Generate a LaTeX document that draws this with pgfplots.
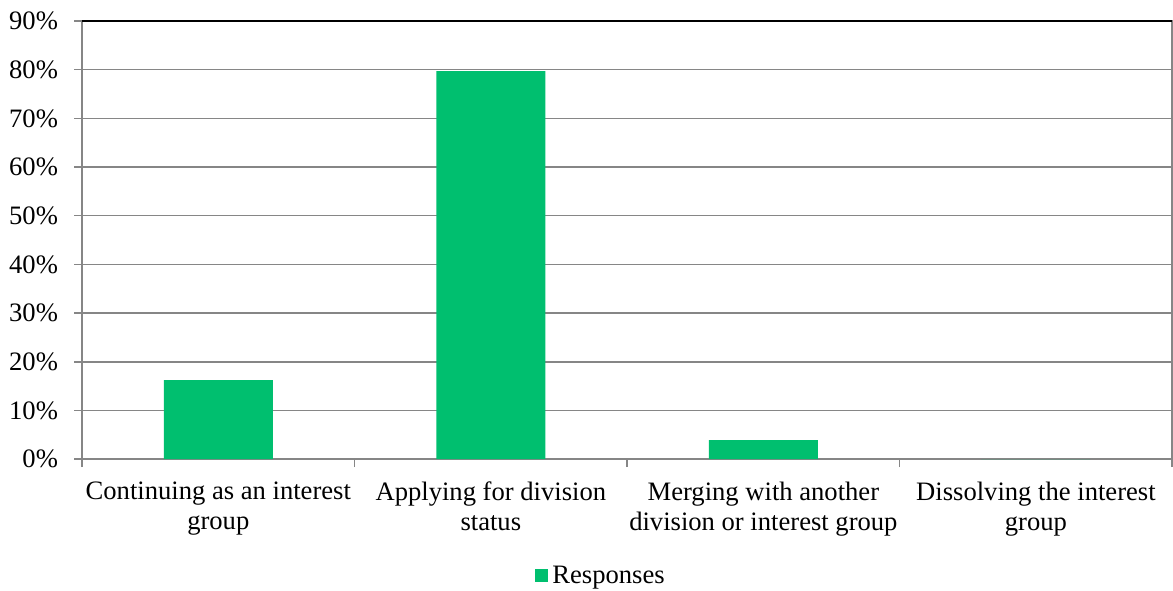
\documentclass[border=0pt]{standalone}
\usepackage{pgfplots}
\pgfplotsset{compat=1.18}
\usepackage{fontspec}
\setmainfont{Liberation Serif}
\definecolor{barg}{RGB}{0,191,111}
\definecolor{axgray}{RGB}{134,134,134}
\begin{document}
\begin{tikzpicture}
\begin{axis}[name=ax,
  scale only axis, width=545pt, height=219pt,
  xmin=-0.5, xmax=3.5, ymin=0, ymax=90,
  /pgf/number format/assume math mode=true,
  xtick={0,1,2,3},
  xticklabels={{Continuing as an interest\\group},{Applying for division\\status},{Merging with another\\division or interest group},{Dissolving the interest\\group}},
  xticklabel style={align=center, font=\fontsize{13.3}{15}\selectfont, yshift=-4pt},
  major x tick style={draw=none},
  minor xtick={-0.5,0.5,1.5,2.5,3.5},
  minor x tick style={axgray, line width=0.8pt},
  ytick={0,10,...,90},
  yticklabel={\pgfmathprintnumber{\tick}\%},
  yticklabel style={font=\fontsize{13.3}{13}\selectfont, xshift=-4.5pt},
  ymajorgrids, grid style={axgray, line width=0.8pt},
  axis line style={axgray, line width=0.8pt},
  y tick style={axgray, line width=0.8pt},
  tick align=outside, major tick length=4pt, minor tick length=4pt,
  xtick pos=bottom, ytick pos=left,
  legend style={at={(0.477,-0.267)}, anchor=center, draw=none, legend columns=-1, font=\fontsize{13.3}{13}\selectfont, inner sep=0pt},
  legend image code/.code={\fill[barg] (0pt,-3.2pt) rectangle (6.5pt,3.3pt);},
]
\addplot[ybar, bar width=0.4, fill=barg, draw=none] coordinates {(0,16.2) (1,79.7) (2,3.9) (3,0)};
\addlegendentry{Responses}
\draw[black, line width=1pt] (rel axis cs:0,1) -- (rel axis cs:1,1);
\end{axis}
\path ([xshift=-41pt,yshift=10.5pt]ax.north west) circle (0pt);
\end{tikzpicture}
\end{document}
